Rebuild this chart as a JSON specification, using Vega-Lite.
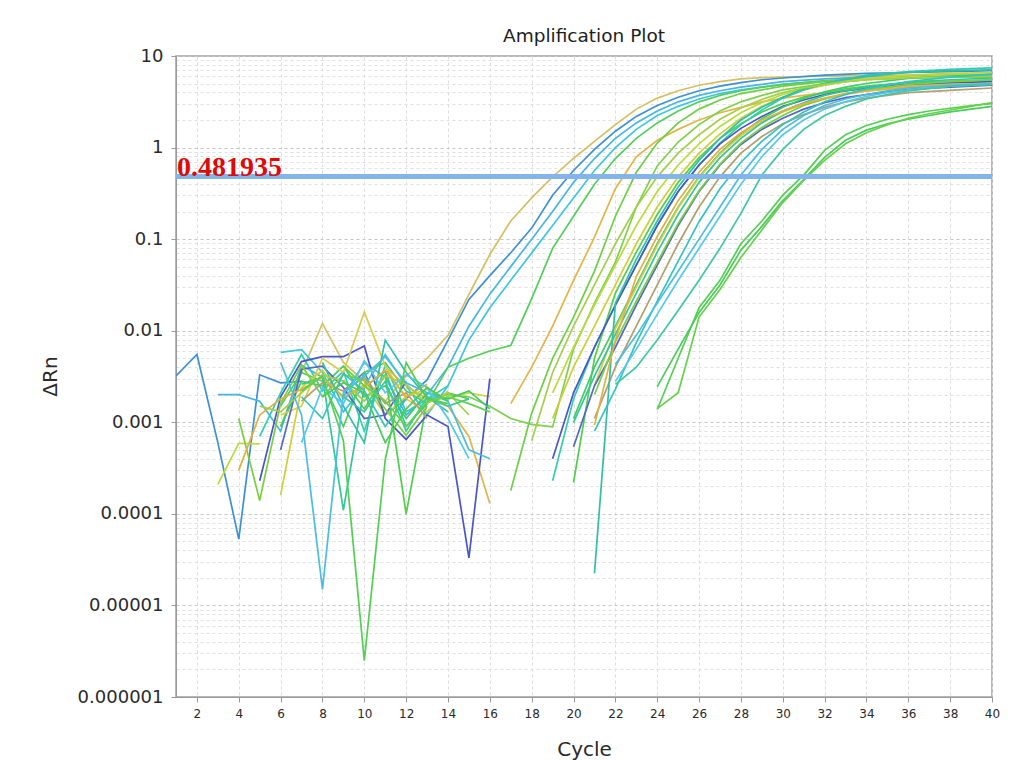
{
"$schema": "https://vega.github.io/schema/vega-lite/v6.json",
"width": 816, "height": 641,
"autosize": {"type": "none"},
"padding": {"left": 176, "top": 56, "right": 19, "bottom": 63},
"background": "white",
"title": {"text": "Amplification Plot", "fontSize": 18.5, "font": "DejaVu Sans", "fontWeight": "normal", "color": "#1e1e1e", "offset": 2},
"config": {
  "view": {"stroke": "#a0a0a0", "strokeWidth": 1.5},
  "axis": {"labelFont": "DejaVu Sans", "titleFont": "DejaVu Sans", "labelColor": "#2a2a2a", "titleColor": "#2a2a2a", "domainColor": "#9a9a9a", "tickColor": "#9a9a9a", "gridDash": [3, 3], "titleFontWeight": "normal"}
},
"data": {"values": [
{"w":"E1","s":1,"c":6,"v":0.0009},{"w":"E1","s":1,"c":7,"v":0.0035},{"w":"E1","s":1,"c":8,"v":0.012},{"w":"E1","s":1,"c":9,"v":0.0045},{"w":"E1","s":1,"c":10,"v":0.0028},{"w":"E1","s":1,"c":11,"v":0.0017},{"w":"E1","s":1,"c":12,"v":0.0032},{"w":"E1","s":1,"c":13,"v":0.005},{"w":"E1","s":1,"c":14,"v":0.0089},{"w":"E1","s":1,"c":15,"v":0.025},{"w":"E1","s":1,"c":16,"v":0.068},{"w":"E1","s":1,"c":17,"v":0.158},{"w":"E1","s":1,"c":18,"v":0.282},{"w":"E1","s":1,"c":19,"v":0.479},{"w":"E1","s":1,"c":20,"v":0.76},{"w":"E1","s":1,"c":21,"v":1.17},{"w":"E1","s":1,"c":22,"v":1.78},{"w":"E1","s":1,"c":23,"v":2.63},{"w":"E1","s":1,"c":24,"v":3.47},{"w":"E1","s":1,"c":25,"v":4.17},{"w":"E1","s":1,"c":26,"v":4.79},{"w":"E1","s":1,"c":27,"v":5.25},{"w":"E1","s":1,"c":28,"v":5.62},{"w":"E1","s":1,"c":29,"v":5.8},{"w":"E1","s":1,"c":30,"v":5.9},{"w":"E1","s":1,"c":32,"v":6.03},{"w":"E1","s":1,"c":34,"v":6.1},{"w":"E1","s":1,"c":36,"v":6.17},{"w":"E1","s":1,"c":38,"v":6.17},{"w":"E1","s":1,"c":40,"v":6.17},
{"w":"E2","s":1,"c":1,"v":0.0032},{"w":"E2","s":1,"c":2,"v":0.0055},{"w":"E2","s":1,"c":3,"v":0.0006},{"w":"E2","s":1,"c":4,"v":0.000053},{"w":"E2","s":1,"c":5,"v":0.0033},{"w":"E2","s":1,"c":6,"v":0.0027},{"w":"E2","s":1,"c":7,"v":0.0028},
{"w":"E2","s":2,"c":9,"v":0.0022},{"w":"E2","s":2,"c":10,"v":0.0035},{"w":"E2","s":2,"c":11,"v":0.0012},{"w":"E2","s":2,"c":12,"v":0.0018},{"w":"E2","s":2,"c":13,"v":0.0029},{"w":"E2","s":2,"c":14,"v":0.0079},{"w":"E2","s":2,"c":15,"v":0.022},{"w":"E2","s":2,"c":16,"v":0.04},{"w":"E2","s":2,"c":17,"v":0.071},{"w":"E2","s":2,"c":18,"v":0.132},{"w":"E2","s":2,"c":19,"v":0.302},{"w":"E2","s":2,"c":20,"v":0.562},{"w":"E2","s":2,"c":21,"v":0.955},{"w":"E2","s":2,"c":22,"v":1.51},{"w":"E2","s":2,"c":23,"v":2.19},{"w":"E2","s":2,"c":24,"v":2.88},{"w":"E2","s":2,"c":25,"v":3.55},{"w":"E2","s":2,"c":26,"v":4.17},{"w":"E2","s":2,"c":27,"v":4.68},{"w":"E2","s":2,"c":28,"v":5.13},{"w":"E2","s":2,"c":29,"v":5.5},{"w":"E2","s":2,"c":30,"v":5.75},{"w":"E2","s":2,"c":32,"v":6.17},{"w":"E2","s":2,"c":34,"v":6.46},{"w":"E2","s":2,"c":36,"v":6.6},{"w":"E2","s":2,"c":38,"v":6.76},{"w":"E2","s":2,"c":40,"v":6.9},
{"w":"E3","s":1,"c":3,"v":0.002},{"w":"E3","s":1,"c":4,"v":0.002},{"w":"E3","s":1,"c":5,"v":0.0017},{"w":"E3","s":1,"c":6,"v":0.0008},{"w":"E3","s":1,"c":7,"v":0.0042},{"w":"E3","s":1,"c":8,"v":0.0031},{"w":"E3","s":1,"c":9,"v":0.0019},{"w":"E3","s":1,"c":10,"v":0.0045},{"w":"E3","s":1,"c":11,"v":0.0031},{"w":"E3","s":1,"c":12,"v":0.0012},{"w":"E3","s":1,"c":13,"v":0.002},{"w":"E3","s":1,"c":14,"v":0.004},{"w":"E3","s":1,"c":15,"v":0.0112},{"w":"E3","s":1,"c":16,"v":0.0251},{"w":"E3","s":1,"c":17,"v":0.0501},{"w":"E3","s":1,"c":18,"v":0.1},{"w":"E3","s":1,"c":19,"v":0.2},{"w":"E3","s":1,"c":20,"v":0.417},{"w":"E3","s":1,"c":21,"v":0.759},{"w":"E3","s":1,"c":22,"v":1.26},{"w":"E3","s":1,"c":23,"v":1.86},{"w":"E3","s":1,"c":24,"v":2.51},{"w":"E3","s":1,"c":25,"v":3.16},{"w":"E3","s":1,"c":26,"v":3.72},{"w":"E3","s":1,"c":27,"v":4.17},{"w":"E3","s":1,"c":28,"v":4.57},{"w":"E3","s":1,"c":29,"v":4.9},{"w":"E3","s":1,"c":30,"v":5.25},{"w":"E3","s":1,"c":32,"v":5.62},{"w":"E3","s":1,"c":34,"v":5.89},{"w":"E3","s":1,"c":36,"v":6.03},{"w":"E3","s":1,"c":38,"v":6.17},{"w":"E3","s":1,"c":40,"v":6.31},
{"w":"E4","s":1,"c":6,"v":0.0058},{"w":"E4","s":1,"c":7,"v":0.0062},{"w":"E4","s":1,"c":8,"v":0.0035},{"w":"E4","s":1,"c":9,"v":0.0013},{"w":"E4","s":1,"c":10,"v":0.0025},{"w":"E4","s":1,"c":11,"v":0.0055},{"w":"E4","s":1,"c":12,"v":0.0025},{"w":"E4","s":1,"c":13,"v":0.0012},{"w":"E4","s":1,"c":14,"v":0.0025},{"w":"E4","s":1,"c":15,"v":0.0079},{"w":"E4","s":1,"c":16,"v":0.0178},{"w":"E4","s":1,"c":17,"v":0.0355},{"w":"E4","s":1,"c":18,"v":0.0708},{"w":"E4","s":1,"c":19,"v":0.141},{"w":"E4","s":1,"c":20,"v":0.282},{"w":"E4","s":1,"c":21,"v":0.562},{"w":"E4","s":1,"c":22,"v":1.0},{"w":"E4","s":1,"c":23,"v":1.58},{"w":"E4","s":1,"c":24,"v":2.24},{"w":"E4","s":1,"c":25,"v":2.82},{"w":"E4","s":1,"c":26,"v":3.39},{"w":"E4","s":1,"c":27,"v":3.89},{"w":"E4","s":1,"c":28,"v":4.27},{"w":"E4","s":1,"c":29,"v":4.57},{"w":"E4","s":1,"c":30,"v":4.9},{"w":"E4","s":1,"c":32,"v":5.37},{"w":"E4","s":1,"c":34,"v":5.75},{"w":"E4","s":1,"c":36,"v":5.89},{"w":"E4","s":1,"c":38,"v":6.03},{"w":"E4","s":1,"c":40,"v":6.03},
{"w":"E5","s":1,"c":6,"v":0.0015},{"w":"E5","s":1,"c":7,"v":0.0035},{"w":"E5","s":1,"c":8,"v":0.0028},{"w":"E5","s":1,"c":9,"v":0.0009},{"w":"E5","s":1,"c":10,"v":0.0035},{"w":"E5","s":1,"c":11,"v":0.0045},{"w":"E5","s":1,"c":12,"v":0.0022},{"w":"E5","s":1,"c":13,"v":0.0016},{"w":"E5","s":1,"c":14,"v":0.004},{"w":"E5","s":1,"c":15,"v":0.005},{"w":"E5","s":1,"c":16,"v":0.006},{"w":"E5","s":1,"c":17,"v":0.0069},{"w":"E5","s":1,"c":18,"v":0.0224},{"w":"E5","s":1,"c":19,"v":0.0794},{"w":"E5","s":1,"c":20,"v":0.178},{"w":"E5","s":1,"c":21,"v":0.398},{"w":"E5","s":1,"c":22,"v":0.759},{"w":"E5","s":1,"c":23,"v":1.26},{"w":"E5","s":1,"c":24,"v":1.86},{"w":"E5","s":1,"c":25,"v":2.51},{"w":"E5","s":1,"c":26,"v":3.16},{"w":"E5","s":1,"c":27,"v":3.72},{"w":"E5","s":1,"c":28,"v":4.17},{"w":"E5","s":1,"c":29,"v":4.57},{"w":"E5","s":1,"c":30,"v":4.9},{"w":"E5","s":1,"c":32,"v":5.37},{"w":"E5","s":1,"c":34,"v":5.62},{"w":"E5","s":1,"c":36,"v":5.75},{"w":"E5","s":1,"c":38,"v":5.89},{"w":"E5","s":1,"c":40,"v":5.89},
{"w":"E6","s":1,"c":11,"v":0.004},{"w":"E6","s":1,"c":12,"v":0.0025},{"w":"E6","s":1,"c":13,"v":0.0018},{"w":"E6","s":1,"c":14,"v":0.0015},{"w":"E6","s":1,"c":15,"v":0.0007},{"w":"E6","s":1,"c":16,"v":0.00013},
{"w":"E6","s":2,"c":17,"v":0.0016},{"w":"E6","s":2,"c":18,"v":0.004},{"w":"E6","s":2,"c":19,"v":0.0112},{"w":"E6","s":2,"c":20,"v":0.0355},{"w":"E6","s":2,"c":21,"v":0.105},{"w":"E6","s":2,"c":22,"v":0.355},{"w":"E6","s":2,"c":23,"v":0.794},{"w":"E6","s":2,"c":24,"v":1.2},{"w":"E6","s":2,"c":25,"v":1.58},{"w":"E6","s":2,"c":26,"v":2.0},{"w":"E6","s":2,"c":27,"v":2.4},{"w":"E6","s":2,"c":28,"v":2.75},{"w":"E6","s":2,"c":29,"v":3.16},{"w":"E6","s":2,"c":30,"v":3.47},{"w":"E6","s":2,"c":32,"v":3.98},{"w":"E6","s":2,"c":34,"v":4.37},{"w":"E6","s":2,"c":36,"v":4.68},{"w":"E6","s":2,"c":38,"v":4.9},{"w":"E6","s":2,"c":40,"v":5.01},
{"w":"E7","s":1,"c":17,"v":0.00018},{"w":"E7","s":1,"c":18,"v":0.00126},{"w":"E7","s":1,"c":19,"v":0.005},{"w":"E7","s":1,"c":20,"v":0.0141},{"w":"E7","s":1,"c":21,"v":0.0447},{"w":"E7","s":1,"c":22,"v":0.178},{"w":"E7","s":1,"c":23,"v":0.537},{"w":"E7","s":1,"c":24,"v":1.12},{"w":"E7","s":1,"c":25,"v":1.86},{"w":"E7","s":1,"c":26,"v":2.63},{"w":"E7","s":1,"c":27,"v":3.31},{"w":"E7","s":1,"c":28,"v":3.89},{"w":"E7","s":1,"c":29,"v":4.27},{"w":"E7","s":1,"c":30,"v":4.68},{"w":"E7","s":1,"c":32,"v":5.25},{"w":"E7","s":1,"c":34,"v":5.62},{"w":"E7","s":1,"c":36,"v":5.89},{"w":"E7","s":1,"c":38,"v":6.03},{"w":"E7","s":1,"c":40,"v":6.03},
{"w":"E8","s":1,"c":13,"v":0.0018},{"w":"E8","s":1,"c":14,"v":0.002},{"w":"E8","s":1,"c":15,"v":0.0019},{"w":"E8","s":1,"c":16,"v":0.0015},{"w":"E8","s":1,"c":17,"v":0.0011},{"w":"E8","s":1,"c":18,"v":0.00095},{"w":"E8","s":1,"c":19,"v":0.00089},{"w":"E8","s":1,"c":20,"v":0.0063},{"w":"E8","s":1,"c":21,"v":0.02},{"w":"E8","s":1,"c":22,"v":0.0562},{"w":"E8","s":1,"c":23,"v":0.224},{"w":"E8","s":1,"c":24,"v":0.631},{"w":"E8","s":1,"c":25,"v":1.15},{"w":"E8","s":1,"c":26,"v":1.78},{"w":"E8","s":1,"c":27,"v":2.51},{"w":"E8","s":1,"c":28,"v":3.16},{"w":"E8","s":1,"c":29,"v":3.72},{"w":"E8","s":1,"c":30,"v":4.27},{"w":"E8","s":1,"c":32,"v":5.01},{"w":"E8","s":1,"c":34,"v":5.5},{"w":"E8","s":1,"c":36,"v":5.75},{"w":"E8","s":1,"c":38,"v":5.89},{"w":"E8","s":1,"c":40,"v":5.89},
{"w":"M1","s":1,"c":3,"v":0.00021},{"w":"M1","s":1,"c":4,"v":0.00059},{"w":"M1","s":1,"c":5,"v":0.00058},
{"w":"M1","s":2,"c":19,"v":0.0021},{"w":"M1","s":2,"c":20,"v":0.0066},{"w":"M1","s":2,"c":21,"v":0.019},{"w":"M1","s":2,"c":22,"v":0.052},{"w":"M1","s":2,"c":23,"v":0.141},{"w":"M1","s":2,"c":24,"v":0.331},{"w":"M1","s":2,"c":25,"v":0.646},{"w":"M1","s":2,"c":26,"v":1.1},{"w":"M1","s":2,"c":27,"v":1.7},{"w":"M1","s":2,"c":28,"v":2.4},{"w":"M1","s":2,"c":29,"v":3.1},{"w":"M1","s":2,"c":30,"v":3.8},{"w":"M1","s":2,"c":31,"v":4.37},{"w":"M1","s":2,"c":32,"v":4.8},{"w":"M1","s":2,"c":33,"v":5.25},{"w":"M1","s":2,"c":34,"v":5.56},{"w":"M1","s":2,"c":36,"v":5.9},{"w":"M1","s":2,"c":38,"v":6.17},{"w":"M1","s":2,"c":40,"v":6.3},
{"w":"M2","s":1,"c":6,"v":0.00016},{"w":"M2","s":1,"c":7,"v":0.0024},{"w":"M2","s":1,"c":8,"v":0.0037},{"w":"M2","s":1,"c":9,"v":0.0018},{"w":"M2","s":1,"c":10,"v":0.0026},{"w":"M2","s":1,"c":11,"v":0.0012},{"w":"M2","s":1,"c":12,"v":0.0019},{"w":"M2","s":1,"c":13,"v":0.0023},{"w":"M2","s":1,"c":14,"v":0.0018},{"w":"M2","s":1,"c":15,"v":0.0021},{"w":"M2","s":1,"c":16,"v":0.0019},
{"w":"M2","s":2,"c":19,"v":0.0011},{"w":"M2","s":2,"c":20,"v":0.004},{"w":"M2","s":2,"c":21,"v":0.0112},{"w":"M2","s":2,"c":22,"v":0.0316},{"w":"M2","s":2,"c":23,"v":0.089},{"w":"M2","s":2,"c":24,"v":0.224},{"w":"M2","s":2,"c":25,"v":0.479},{"w":"M2","s":2,"c":26,"v":0.87},{"w":"M2","s":2,"c":27,"v":1.41},{"w":"M2","s":2,"c":28,"v":2.09},{"w":"M2","s":2,"c":29,"v":2.82},{"w":"M2","s":2,"c":30,"v":3.55},{"w":"M2","s":2,"c":31,"v":4.27},{"w":"M2","s":2,"c":32,"v":4.79},{"w":"M2","s":2,"c":33,"v":5.25},{"w":"M2","s":2,"c":34,"v":5.69},{"w":"M2","s":2,"c":36,"v":6.17},{"w":"M2","s":2,"c":38,"v":6.46},{"w":"M2","s":2,"c":40,"v":6.6},
{"w":"M3","s":1,"c":9,"v":0.0029},{"w":"M3","s":1,"c":10,"v":0.0014},{"w":"M3","s":1,"c":11,"v":0.0033},{"w":"M3","s":1,"c":12,"v":0.0001},{"w":"M3","s":1,"c":13,"v":0.0017},{"w":"M3","s":1,"c":14,"v":0.0021},{"w":"M3","s":1,"c":15,"v":0.0018},
{"w":"M3","s":2,"c":20,"v":0.00022},{"w":"M3","s":2,"c":21,"v":0.005},{"w":"M3","s":2,"c":22,"v":0.0257},{"w":"M3","s":2,"c":23,"v":0.072},{"w":"M3","s":2,"c":24,"v":0.186},{"w":"M3","s":2,"c":25,"v":0.417},{"w":"M3","s":2,"c":26,"v":0.776},{"w":"M3","s":2,"c":27,"v":1.26},{"w":"M3","s":2,"c":28,"v":1.82},{"w":"M3","s":2,"c":29,"v":2.45},{"w":"M3","s":2,"c":30,"v":3.02},{"w":"M3","s":2,"c":31,"v":3.55},{"w":"M3","s":2,"c":32,"v":3.98},{"w":"M3","s":2,"c":33,"v":4.37},{"w":"M3","s":2,"c":34,"v":4.68},{"w":"M3","s":2,"c":36,"v":5.13},{"w":"M3","s":2,"c":38,"v":5.31},{"w":"M3","s":2,"c":40,"v":5.5},
{"w":"M4","s":1,"c":5,"v":0.0007},{"w":"M4","s":1,"c":6,"v":0.0021},{"w":"M4","s":1,"c":7,"v":0.0055},{"w":"M4","s":1,"c":8,"v":0.0022},{"w":"M4","s":1,"c":9,"v":0.0036},{"w":"M4","s":1,"c":10,"v":0.0008},{"w":"M4","s":1,"c":11,"v":0.0042},{"w":"M4","s":1,"c":12,"v":0.0013},{"w":"M4","s":1,"c":13,"v":0.0018},{"w":"M4","s":1,"c":14,"v":0.0025},
{"w":"M4","s":2,"c":19,"v":0.00023},{"w":"M4","s":2,"c":20,"v":0.0018},{"w":"M4","s":2,"c":21,"v":0.0066},{"w":"M4","s":2,"c":22,"v":0.019},{"w":"M4","s":2,"c":23,"v":0.052},{"w":"M4","s":2,"c":24,"v":0.141},{"w":"M4","s":2,"c":25,"v":0.331},{"w":"M4","s":2,"c":26,"v":0.646},{"w":"M4","s":2,"c":27,"v":1.12},{"w":"M4","s":2,"c":28,"v":1.78},{"w":"M4","s":2,"c":29,"v":2.57},{"w":"M4","s":2,"c":30,"v":3.47},{"w":"M4","s":2,"c":31,"v":4.27},{"w":"M4","s":2,"c":32,"v":5.01},{"w":"M4","s":2,"c":33,"v":5.56},{"w":"M4","s":2,"c":34,"v":6.17},{"w":"M4","s":2,"c":36,"v":6.76},{"w":"M4","s":2,"c":38,"v":7.16},{"w":"M4","s":2,"c":40,"v":7.41},
{"w":"M5","s":1,"c":5,"v":0.00023},{"w":"M5","s":1,"c":6,"v":0.0019},{"w":"M5","s":1,"c":7,"v":0.0046},{"w":"M5","s":1,"c":8,"v":0.0052},{"w":"M5","s":1,"c":9,"v":0.0052},{"w":"M5","s":1,"c":10,"v":0.0068},{"w":"M5","s":1,"c":11,"v":0.0011},{"w":"M5","s":1,"c":12,"v":0.00065},{"w":"M5","s":1,"c":13,"v":0.0012},{"w":"M5","s":1,"c":14,"v":0.0009},{"w":"M5","s":1,"c":15,"v":0.000033},{"w":"M5","s":1,"c":16,"v":0.003},
{"w":"M5","s":2,"c":19,"v":0.0004},{"w":"M5","s":2,"c":20,"v":0.0021},{"w":"M5","s":2,"c":21,"v":0.0066},{"w":"M5","s":2,"c":22,"v":0.019},{"w":"M5","s":2,"c":23,"v":0.052},{"w":"M5","s":2,"c":24,"v":0.141},{"w":"M5","s":2,"c":25,"v":0.331},{"w":"M5","s":2,"c":26,"v":0.646},{"w":"M5","s":2,"c":27,"v":1.1},{"w":"M5","s":2,"c":28,"v":1.62},{"w":"M5","s":2,"c":29,"v":2.19},{"w":"M5","s":2,"c":30,"v":2.82},{"w":"M5","s":2,"c":31,"v":3.31},{"w":"M5","s":2,"c":32,"v":3.8},{"w":"M5","s":2,"c":33,"v":4.17},{"w":"M5","s":2,"c":34,"v":4.52},{"w":"M5","s":2,"c":36,"v":4.9},{"w":"M5","s":2,"c":38,"v":5.13},{"w":"M5","s":2,"c":40,"v":5.25},
{"w":"M6","s":1,"c":6,"v":0.0009},{"w":"M6","s":1,"c":7,"v":0.0028},{"w":"M6","s":1,"c":8,"v":0.0025},{"w":"M6","s":1,"c":9,"v":0.0041},{"w":"M6","s":1,"c":10,"v":0.0019},{"w":"M6","s":1,"c":11,"v":0.0025},{"w":"M6","s":1,"c":12,"v":0.0011},{"w":"M6","s":1,"c":13,"v":0.0021},{"w":"M6","s":1,"c":14,"v":0.0018},{"w":"M6","s":1,"c":15,"v":0.0022},{"w":"M6","s":1,"c":16,"v":0.0014},
{"w":"M6","s":2,"c":20,"v":0.0011},{"w":"M6","s":2,"c":21,"v":0.004},{"w":"M6","s":2,"c":22,"v":0.0112},{"w":"M6","s":2,"c":23,"v":0.0316},{"w":"M6","s":2,"c":24,"v":0.089},{"w":"M6","s":2,"c":25,"v":0.224},{"w":"M6","s":2,"c":26,"v":0.479},{"w":"M6","s":2,"c":27,"v":0.87},{"w":"M6","s":2,"c":28,"v":1.41},{"w":"M6","s":2,"c":29,"v":2.07},{"w":"M6","s":2,"c":30,"v":2.75},{"w":"M6","s":2,"c":31,"v":3.43},{"w":"M6","s":2,"c":32,"v":4.07},{"w":"M6","s":2,"c":33,"v":4.57},{"w":"M6","s":2,"c":34,"v":5.01},{"w":"M6","s":2,"c":36,"v":5.69},{"w":"M6","s":2,"c":38,"v":6.03},{"w":"M6","s":2,"c":40,"v":6.31},
{"w":"M7","s":1,"c":6,"v":0.0012},{"w":"M7","s":1,"c":7,"v":0.0015},{"w":"M7","s":1,"c":8,"v":0.005},{"w":"M7","s":1,"c":9,"v":0.0035},{"w":"M7","s":1,"c":10,"v":0.016},{"w":"M7","s":1,"c":11,"v":0.0041},{"w":"M7","s":1,"c":12,"v":0.0018},{"w":"M7","s":1,"c":13,"v":0.0013},{"w":"M7","s":1,"c":14,"v":0.0022},
{"w":"M7","s":2,"c":21,"v":0.0025},{"w":"M7","s":2,"c":22,"v":0.0105},{"w":"M7","s":2,"c":23,"v":0.03},{"w":"M7","s":2,"c":24,"v":0.085},{"w":"M7","s":2,"c":25,"v":0.219},{"w":"M7","s":2,"c":26,"v":0.468},{"w":"M7","s":2,"c":27,"v":0.85},{"w":"M7","s":2,"c":28,"v":1.35},{"w":"M7","s":2,"c":29,"v":1.91},{"w":"M7","s":2,"c":30,"v":2.45},{"w":"M7","s":2,"c":31,"v":2.95},{"w":"M7","s":2,"c":32,"v":3.43},{"w":"M7","s":2,"c":33,"v":3.8},{"w":"M7","s":2,"c":34,"v":4.12},{"w":"M7","s":2,"c":36,"v":4.57},{"w":"M7","s":2,"c":38,"v":4.84},{"w":"M7","s":2,"c":40,"v":5.01},
{"w":"M8","s":1,"c":7,"v":0.0026},{"w":"M8","s":1,"c":8,"v":0.0031},{"w":"M8","s":1,"c":9,"v":0.00011},{"w":"M8","s":1,"c":10,"v":0.0024},{"w":"M8","s":1,"c":11,"v":0.0036},{"w":"M8","s":1,"c":12,"v":0.0009},{"w":"M8","s":1,"c":13,"v":0.0016},
{"w":"M8","s":2,"c":20,"v":0.001},{"w":"M8","s":2,"c":21,"v":0.0032},{"w":"M8","s":2,"c":22,"v":0.0091},{"w":"M8","s":2,"c":23,"v":0.0257},{"w":"M8","s":2,"c":24,"v":0.072},{"w":"M8","s":2,"c":25,"v":0.186},{"w":"M8","s":2,"c":26,"v":0.417},{"w":"M8","s":2,"c":27,"v":0.776},{"w":"M8","s":2,"c":28,"v":1.26},{"w":"M8","s":2,"c":29,"v":1.86},{"w":"M8","s":2,"c":30,"v":2.51},{"w":"M8","s":2,"c":31,"v":3.09},{"w":"M8","s":2,"c":32,"v":3.72},{"w":"M8","s":2,"c":33,"v":4.17},{"w":"M8","s":2,"c":34,"v":4.57},{"w":"M8","s":2,"c":36,"v":5.19},{"w":"M8","s":2,"c":38,"v":5.5},{"w":"M8","s":2,"c":40,"v":5.75},
{"w":"M9","s":1,"c":6,"v":0.0005},{"w":"M9","s":1,"c":7,"v":0.0038},{"w":"M9","s":1,"c":8,"v":0.0041},{"w":"M9","s":1,"c":9,"v":0.0024},{"w":"M9","s":1,"c":10,"v":0.0011},{"w":"M9","s":1,"c":11,"v":0.0012},{"w":"M9","s":1,"c":12,"v":0.0028},
{"w":"M9","s":2,"c":20,"v":0.00054},{"w":"M9","s":2,"c":21,"v":0.0025},{"w":"M9","s":2,"c":22,"v":0.0066},{"w":"M9","s":2,"c":23,"v":0.019},{"w":"M9","s":2,"c":24,"v":0.052},{"w":"M9","s":2,"c":25,"v":0.141},{"w":"M9","s":2,"c":26,"v":0.331},{"w":"M9","s":2,"c":27,"v":0.646},{"w":"M9","s":2,"c":28,"v":1.08},{"w":"M9","s":2,"c":29,"v":1.58},{"w":"M9","s":2,"c":30,"v":2.09},{"w":"M9","s":2,"c":31,"v":2.63},{"w":"M9","s":2,"c":32,"v":3.09},{"w":"M9","s":2,"c":33,"v":3.51},{"w":"M9","s":2,"c":34,"v":3.8},{"w":"M9","s":2,"c":36,"v":4.32},{"w":"M9","s":2,"c":38,"v":4.57},{"w":"M9","s":2,"c":40,"v":4.79},
{"w":"M10","s":1,"c":4,"v":0.0011},{"w":"M10","s":1,"c":5,"v":0.00014},{"w":"M10","s":1,"c":6,"v":0.0016},{"w":"M10","s":1,"c":7,"v":0.0042},{"w":"M10","s":1,"c":8,"v":0.0019},{"w":"M10","s":1,"c":9,"v":0.0033},{"w":"M10","s":1,"c":10,"v":0.0029},{"w":"M10","s":1,"c":11,"v":0.0014},{"w":"M10","s":1,"c":12,"v":0.00072},{"w":"M10","s":1,"c":13,"v":0.0015},
{"w":"M10","s":2,"c":21,"v":0.002},{"w":"M10","s":2,"c":22,"v":0.0076},{"w":"M10","s":2,"c":23,"v":0.021},{"w":"M10","s":2,"c":24,"v":0.056},{"w":"M10","s":2,"c":25,"v":0.148},{"w":"M10","s":2,"c":26,"v":0.339},{"w":"M10","s":2,"c":27,"v":0.661},{"w":"M10","s":2,"c":28,"v":1.12},{"w":"M10","s":2,"c":29,"v":1.66},{"w":"M10","s":2,"c":30,"v":2.24},{"w":"M10","s":2,"c":31,"v":2.88},{"w":"M10","s":2,"c":32,"v":3.39},{"w":"M10","s":2,"c":33,"v":3.89},{"w":"M10","s":2,"c":34,"v":4.27},{"w":"M10","s":2,"c":36,"v":4.9},{"w":"M10","s":2,"c":38,"v":5.25},{"w":"M10","s":2,"c":40,"v":5.5},
{"w":"M11","s":1,"c":7,"v":0.0017},{"w":"M11","s":1,"c":8,"v":0.0027},{"w":"M11","s":1,"c":9,"v":0.0022},{"w":"M11","s":1,"c":10,"v":0.0031},{"w":"M11","s":1,"c":11,"v":0.0016},{"w":"M11","s":1,"c":12,"v":0.0021},{"w":"M11","s":1,"c":13,"v":0.0011},
{"w":"M11","s":2,"c":21,"v":0.0011},{"w":"M11","s":2,"c":22,"v":0.004},{"w":"M11","s":2,"c":23,"v":0.0112},{"w":"M11","s":2,"c":24,"v":0.0316},{"w":"M11","s":2,"c":25,"v":0.089},{"w":"M11","s":2,"c":26,"v":0.224},{"w":"M11","s":2,"c":27,"v":0.479},{"w":"M11","s":2,"c":28,"v":0.87},{"w":"M11","s":2,"c":29,"v":1.32},{"w":"M11","s":2,"c":30,"v":1.82},{"w":"M11","s":2,"c":31,"v":2.29},{"w":"M11","s":2,"c":32,"v":2.75},{"w":"M11","s":2,"c":33,"v":3.16},{"w":"M11","s":2,"c":34,"v":3.47},{"w":"M11","s":2,"c":36,"v":3.98},{"w":"M11","s":2,"c":38,"v":4.22},{"w":"M11","s":2,"c":40,"v":4.47},
{"w":"M12","s":1,"c":8,"v":0.0045},{"w":"M12","s":1,"c":9,"v":0.0015},{"w":"M12","s":1,"c":10,"v":0.0006},{"w":"M12","s":1,"c":11,"v":0.0079},{"w":"M12","s":1,"c":12,"v":0.0035},{"w":"M12","s":1,"c":13,"v":0.0019},{"w":"M12","s":1,"c":14,"v":0.0013},
{"w":"M12","s":2,"c":21,"v":0.0000224},{"w":"M12","s":2,"c":22,"v":0.02},{"w":"M12","s":2,"c":23,"v":0.06},{"w":"M12","s":2,"c":24,"v":0.158},{"w":"M12","s":2,"c":25,"v":0.372},{"w":"M12","s":2,"c":26,"v":0.724},{"w":"M12","s":2,"c":27,"v":1.26},{"w":"M12","s":2,"c":28,"v":2.0},{"w":"M12","s":2,"c":29,"v":2.75},{"w":"M12","s":2,"c":30,"v":3.55},{"w":"M12","s":2,"c":31,"v":4.37},{"w":"M12","s":2,"c":32,"v":5.01},{"w":"M12","s":2,"c":33,"v":5.56},{"w":"M12","s":2,"c":34,"v":6.03},{"w":"M12","s":2,"c":36,"v":6.61},{"w":"M12","s":2,"c":38,"v":6.92},{"w":"M12","s":2,"c":40,"v":7.08},
{"w":"M13","s":1,"c":4,"v":0.0003},{"w":"M13","s":1,"c":5,"v":0.0012},{"w":"M13","s":1,"c":6,"v":0.0018},{"w":"M13","s":1,"c":7,"v":0.0023},{"w":"M13","s":1,"c":8,"v":0.0031},{"w":"M13","s":1,"c":9,"v":0.0019},{"w":"M13","s":1,"c":10,"v":0.0024},{"w":"M13","s":1,"c":11,"v":0.0037},{"w":"M13","s":1,"c":12,"v":0.0019},{"w":"M13","s":1,"c":13,"v":0.0026},
{"w":"M13","s":2,"c":21,"v":0.00093},{"w":"M13","s":2,"c":22,"v":0.0079},{"w":"M13","s":2,"c":23,"v":0.039},{"w":"M13","s":2,"c":24,"v":0.107},{"w":"M13","s":2,"c":25,"v":0.263},{"w":"M13","s":2,"c":26,"v":0.537},{"w":"M13","s":2,"c":27,"v":0.955},{"w":"M13","s":2,"c":28,"v":1.45},{"w":"M13","s":2,"c":29,"v":2.0},{"w":"M13","s":2,"c":30,"v":2.51},{"w":"M13","s":2,"c":31,"v":3.02},{"w":"M13","s":2,"c":32,"v":3.47},{"w":"M13","s":2,"c":33,"v":3.89},{"w":"M13","s":2,"c":34,"v":4.17},{"w":"M13","s":2,"c":36,"v":4.57},{"w":"M13","s":2,"c":38,"v":4.84},{"w":"M13","s":2,"c":40,"v":5.01},
{"w":"M14","s":1,"c":5,"v":0.0015},{"w":"M14","s":1,"c":6,"v":0.0013},{"w":"M14","s":1,"c":7,"v":0.0021},{"w":"M14","s":1,"c":8,"v":0.0033},{"w":"M14","s":1,"c":9,"v":0.0028},{"w":"M14","s":1,"c":10,"v":0.0017},{"w":"M14","s":1,"c":11,"v":0.0032},{"w":"M14","s":1,"c":12,"v":0.0026},{"w":"M14","s":1,"c":13,"v":0.0016},{"w":"M14","s":1,"c":14,"v":0.0021},{"w":"M14","s":1,"c":15,"v":0.0012},
{"w":"M14","s":2,"c":18,"v":0.00063},{"w":"M14","s":2,"c":19,"v":0.0035},{"w":"M14","s":2,"c":20,"v":0.0112},{"w":"M14","s":2,"c":21,"v":0.0316},{"w":"M14","s":2,"c":22,"v":0.089},{"w":"M14","s":2,"c":23,"v":0.224},{"w":"M14","s":2,"c":24,"v":0.479},{"w":"M14","s":2,"c":25,"v":0.87},{"w":"M14","s":2,"c":26,"v":1.38},{"w":"M14","s":2,"c":27,"v":2.04},{"w":"M14","s":2,"c":28,"v":2.7},{"w":"M14","s":2,"c":29,"v":3.35},{"w":"M14","s":2,"c":30,"v":3.98},{"w":"M14","s":2,"c":31,"v":4.47},{"w":"M14","s":2,"c":32,"v":4.9},{"w":"M14","s":2,"c":33,"v":5.25},{"w":"M14","s":2,"c":34,"v":5.5},{"w":"M14","s":2,"c":36,"v":5.75},{"w":"M14","s":2,"c":38,"v":5.9},{"w":"M14","s":2,"c":40,"v":6.03},
{"w":"M15","s":1,"c":7,"v":0.0019},{"w":"M15","s":1,"c":8,"v":0.0011},{"w":"M15","s":1,"c":9,"v":0.0034},{"w":"M15","s":1,"c":10,"v":0.0022},{"w":"M15","s":1,"c":11,"v":0.0009},{"w":"M15","s":1,"c":12,"v":0.0018},
{"w":"M15","s":2,"c":21,"v":0.0008},{"w":"M15","s":2,"c":22,"v":0.0023},{"w":"M15","s":2,"c":23,"v":0.0074},{"w":"M15","s":2,"c":24,"v":0.021},{"w":"M15","s":2,"c":25,"v":0.0575},{"w":"M15","s":2,"c":26,"v":0.155},{"w":"M15","s":2,"c":27,"v":0.355},{"w":"M15","s":2,"c":28,"v":0.692},{"w":"M15","s":2,"c":29,"v":1.17},{"w":"M15","s":2,"c":30,"v":1.78},{"w":"M15","s":2,"c":31,"v":2.45},{"w":"M15","s":2,"c":32,"v":3.16},{"w":"M15","s":2,"c":33,"v":3.8},{"w":"M15","s":2,"c":34,"v":4.37},{"w":"M15","s":2,"c":36,"v":5.25},{"w":"M15","s":2,"c":38,"v":5.89},{"w":"M15","s":2,"c":40,"v":6.31},
{"w":"L1","s":1,"c":6,"v":0.0045},{"w":"L1","s":1,"c":7,"v":0.0012},{"w":"L1","s":1,"c":8,"v":0.000015},{"w":"L1","s":1,"c":9,"v":0.0021},{"w":"L1","s":1,"c":10,"v":0.0032},{"w":"L1","s":1,"c":11,"v":0.0052},{"w":"L1","s":1,"c":12,"v":0.0027},{"w":"L1","s":1,"c":13,"v":0.0021},{"w":"L1","s":1,"c":14,"v":0.0017},{"w":"L1","s":1,"c":15,"v":0.0005},{"w":"L1","s":1,"c":16,"v":0.0004},
{"w":"L1","s":2,"c":22,"v":0.0043},{"w":"L1","s":2,"c":23,"v":0.0089},{"w":"L1","s":2,"c":24,"v":0.02},{"w":"L1","s":2,"c":25,"v":0.0447},{"w":"L1","s":2,"c":26,"v":0.1},{"w":"L1","s":2,"c":27,"v":0.224},{"w":"L1","s":2,"c":28,"v":0.501},{"w":"L1","s":2,"c":29,"v":0.955},{"w":"L1","s":2,"c":30,"v":1.58},{"w":"L1","s":2,"c":31,"v":2.24},{"w":"L1","s":2,"c":32,"v":2.88},{"w":"L1","s":2,"c":33,"v":3.39},{"w":"L1","s":2,"c":34,"v":3.8},{"w":"L1","s":2,"c":35,"v":4.17},{"w":"L1","s":2,"c":36,"v":4.47},{"w":"L1","s":2,"c":38,"v":4.79},{"w":"L1","s":2,"c":40,"v":5.01},
{"w":"L2","s":1,"c":7,"v":0.0006},{"w":"L2","s":1,"c":8,"v":0.0024},{"w":"L2","s":1,"c":9,"v":0.0016},{"w":"L2","s":1,"c":10,"v":0.0047},{"w":"L2","s":1,"c":11,"v":0.0021},{"w":"L2","s":1,"c":12,"v":0.0033},{"w":"L2","s":1,"c":13,"v":0.0024},{"w":"L2","s":1,"c":14,"v":0.0011},{"w":"L2","s":1,"c":15,"v":0.0004},
{"w":"L2","s":2,"c":22,"v":0.0028},{"w":"L2","s":2,"c":23,"v":0.0063},{"w":"L2","s":2,"c":24,"v":0.0151},{"w":"L2","s":2,"c":25,"v":0.0355},{"w":"L2","s":2,"c":26,"v":0.0794},{"w":"L2","s":2,"c":27,"v":0.178},{"w":"L2","s":2,"c":28,"v":0.398},{"w":"L2","s":2,"c":29,"v":0.794},{"w":"L2","s":2,"c":30,"v":1.38},{"w":"L2","s":2,"c":31,"v":2.0},{"w":"L2","s":2,"c":32,"v":2.63},{"w":"L2","s":2,"c":33,"v":3.16},{"w":"L2","s":2,"c":34,"v":3.63},{"w":"L2","s":2,"c":35,"v":3.98},{"w":"L2","s":2,"c":36,"v":4.27},{"w":"L2","s":2,"c":38,"v":4.68},{"w":"L2","s":2,"c":40,"v":4.9},
{"w":"L3","s":1,"c":9,"v":0.0019},{"w":"L3","s":1,"c":10,"v":0.0013},{"w":"L3","s":1,"c":11,"v":0.0028},{"w":"L3","s":1,"c":12,"v":0.0008},{"w":"L3","s":1,"c":13,"v":0.0019},{"w":"L3","s":1,"c":14,"v":0.0015},{"w":"L3","s":1,"c":15,"v":0.0018},
{"w":"L3","s":2,"c":22,"v":0.0026},{"w":"L3","s":2,"c":23,"v":0.004},{"w":"L3","s":2,"c":24,"v":0.0079},{"w":"L3","s":2,"c":25,"v":0.0166},{"w":"L3","s":2,"c":26,"v":0.0355},{"w":"L3","s":2,"c":27,"v":0.0794},{"w":"L3","s":2,"c":28,"v":0.191},{"w":"L3","s":2,"c":29,"v":0.501},{"w":"L3","s":2,"c":30,"v":0.955},{"w":"L3","s":2,"c":31,"v":1.58},{"w":"L3","s":2,"c":32,"v":2.24},{"w":"L3","s":2,"c":33,"v":2.82},{"w":"L3","s":2,"c":34,"v":3.39},{"w":"L3","s":2,"c":35,"v":3.8},{"w":"L3","s":2,"c":36,"v":4.17},{"w":"L3","s":2,"c":38,"v":4.68},{"w":"L3","s":2,"c":40,"v":4.9},
{"w":"G1","s":1,"c":7,"v":0.0022},{"w":"G1","s":1,"c":8,"v":0.0032},{"w":"G1","s":1,"c":9,"v":0.00063},{"w":"G1","s":1,"c":10,"v":0.0000025},{"w":"G1","s":1,"c":11,"v":0.00039},{"w":"G1","s":1,"c":12,"v":0.0045},{"w":"G1","s":1,"c":13,"v":0.0018},{"w":"G1","s":1,"c":14,"v":0.0016},
{"w":"G1","s":2,"c":24,"v":0.00138},{"w":"G1","s":2,"c":25,"v":0.005},{"w":"G1","s":2,"c":26,"v":0.0178},{"w":"G1","s":2,"c":27,"v":0.0355},{"w":"G1","s":2,"c":28,"v":0.0891},{"w":"G1","s":2,"c":29,"v":0.158},{"w":"G1","s":2,"c":30,"v":0.302},{"w":"G1","s":2,"c":31,"v":0.501},{"w":"G1","s":2,"c":32,"v":0.933},{"w":"G1","s":2,"c":33,"v":1.38},{"w":"G1","s":2,"c":34,"v":1.74},{"w":"G1","s":2,"c":35,"v":2.04},{"w":"G1","s":2,"c":36,"v":2.29},{"w":"G1","s":2,"c":37,"v":2.51},{"w":"G1","s":2,"c":38,"v":2.69},{"w":"G1","s":2,"c":39,"v":2.88},{"w":"G1","s":2,"c":40,"v":3.02},
{"w":"G2","s":1,"c":8,"v":0.0019},{"w":"G2","s":1,"c":9,"v":0.0027},{"w":"G2","s":1,"c":10,"v":0.0021},{"w":"G2","s":1,"c":11,"v":0.0006},{"w":"G2","s":1,"c":12,"v":0.0014},{"w":"G2","s":1,"c":13,"v":0.0024},{"w":"G2","s":1,"c":14,"v":0.0017},
{"w":"G2","s":2,"c":24,"v":0.00245},{"w":"G2","s":2,"c":25,"v":0.0063},{"w":"G2","s":2,"c":26,"v":0.0158},{"w":"G2","s":2,"c":27,"v":0.0316},{"w":"G2","s":2,"c":28,"v":0.0759},{"w":"G2","s":2,"c":29,"v":0.138},{"w":"G2","s":2,"c":30,"v":0.263},{"w":"G2","s":2,"c":31,"v":0.447},{"w":"G2","s":2,"c":32,"v":0.78},{"w":"G2","s":2,"c":33,"v":1.2},{"w":"G2","s":2,"c":34,"v":1.55},{"w":"G2","s":2,"c":35,"v":1.82},{"w":"G2","s":2,"c":36,"v":2.04},{"w":"G2","s":2,"c":37,"v":2.24},{"w":"G2","s":2,"c":38,"v":2.45},{"w":"G2","s":2,"c":39,"v":2.63},{"w":"G2","s":2,"c":40,"v":2.82},
{"w":"G3","s":1,"c":9,"v":0.0041},{"w":"G3","s":1,"c":10,"v":0.0025},{"w":"G3","s":1,"c":11,"v":0.0017},{"w":"G3","s":1,"c":12,"v":0.0009},{"w":"G3","s":1,"c":13,"v":0.0017},{"w":"G3","s":1,"c":14,"v":0.0019},{"w":"G3","s":1,"c":15,"v":0.0016},{"w":"G3","s":1,"c":16,"v":0.0013},
{"w":"G3","s":2,"c":24,"v":0.00141},{"w":"G3","s":2,"c":25,"v":0.0021},{"w":"G3","s":2,"c":26,"v":0.0141},{"w":"G3","s":2,"c":27,"v":0.0282},{"w":"G3","s":2,"c":28,"v":0.0631},{"w":"G3","s":2,"c":29,"v":0.126},{"w":"G3","s":2,"c":30,"v":0.251},{"w":"G3","s":2,"c":31,"v":0.437},{"w":"G3","s":2,"c":32,"v":0.724},{"w":"G3","s":2,"c":33,"v":1.1},{"w":"G3","s":2,"c":34,"v":1.45},{"w":"G3","s":2,"c":35,"v":1.78},{"w":"G3","s":2,"c":36,"v":2.09},{"w":"G3","s":2,"c":37,"v":2.34},{"w":"G3","s":2,"c":38,"v":2.57},{"w":"G3","s":2,"c":39,"v":2.82},{"w":"G3","s":2,"c":40,"v":3.09}
]},
"layer": [
{
  "mark": {"type": "line", "strokeWidth": 1.7, "clip": true},
  "encoding": {
    "x": {"field": "c", "type": "quantitative", "scale": {"domain": [1, 40], "nice": false, "zero": false},
      "axis": {"title": "Cycle", "values": [2,4,6,8,10,12,14,16,18,20,22,24,26,28,30,32,34,36,38,40], "labelFontSize": 12, "labelFlush": false, "tickSize": 5, "labelPadding": 6, "gridColor": "#dcdcdc", "titleFontSize": 20, "titleY": 58, "titleBaseline": "alphabetic"}},
    "y": {"field": "v", "type": "quantitative", "scale": {"type": "log", "domain": [0.000001, 10], "nice": false},
      "axis": {"title": "ΔRn",
        "values": [0.000001,0.000002,0.000003,0.000004,0.000005,0.000006,0.000007,0.000008,0.000009,0.00001,0.00002,0.00003,0.00004,0.00005,0.00006,0.00007,0.00008,0.00009,0.0001,0.0002,0.0003,0.0004,0.0005,0.0006,0.0007,0.0008,0.0009,0.001,0.002,0.003,0.004,0.005,0.006,0.007,0.008,0.009,0.01,0.02,0.03,0.04,0.05,0.06,0.07,0.08,0.09,0.1,0.2,0.3,0.4,0.5,0.6,0.7,0.8,0.9,1,2,3,4,5,6,7,8,9,10],
        "labelExpr": "indexof(['10','1','0.1','0.01','0.001','0.0001','0.00001','0.000001'], format(datum.value, '.6~f')) >= 0 ? format(datum.value, '.6~f') : ''",
        "labelOverlap": false, "labelFontSize": 18, "labelPadding": 8, "tickSize": 5,
        "tickOpacity": {"condition": {"test": "indexof(['10','1','0.1','0.01','0.001','0.0001','0.00001','0.000001'], format(datum.value, '.6~f')) >= 0", "value": 1}, "value": 0},
        "gridColor": {"condition": {"test": "indexof(['10','1','0.1','0.01','0.001','0.0001','0.00001','0.000001'], format(datum.value, '.6~f')) >= 0", "value": "#c6c6c6"}, "value": "#e0e0e0"},
        "titleFontSize": 20, "titleAngle": -90, "titleX": -116, "titleY": 320, "titleBaseline": "bottom", "titleAlign": "center"}},
    "color": {"field": "w", "type": "nominal", "legend": null,
      "scale": {"domain": ["E1","E2","E3","E4","E5","E6","E7","E8","M1","M2","M3","M4","M5","M6","M7","M8","M9","M10","M11","M12","M13","M14","M15","L1","L2","L3","G1","G2","G3"],
        "range": ["#d4c060","#3d8fd6","#45b5e5","#3cc6e2","#52cf5a","#e4b448","#6ccf45","#7ed04a","#b8dc3a","#cdd035","#4fd04c","#2fcfae","#4a55c8","#3fcb68","#dcca4c","#2fc896","#5566c4","#78d040","#b0a070","#30c0a8","#e3b040","#a4cf48","#34c4c0","#4abde2","#55c8ec","#3cc8a0","#52d052","#4acb5c","#64d24a"]}},
    "detail": [{"field": "w", "type": "nominal"}, {"field": "s", "type": "nominal"}],
    "order": {"field": "c", "type": "quantitative"}
  }
},
{
  "data": {"values": [{"thr": 0.481935, "c0": 1, "lab": "0.481935"}]},
  "mark": {"type": "rule", "color": "#83b5ec", "strokeWidth": 5},
  "encoding": {"y": {"field": "thr", "type": "quantitative"}}
},
{
  "data": {"values": [{"thr": 0.481935, "c0": 1, "lab": "0.481935"}]},
  "mark": {"type": "text", "font": "Liberation Serif", "fontWeight": "bold", "fontSize": 28, "color": "#dd0a0a", "align": "left", "baseline": "alphabetic", "dx": 1, "dy": -1},
  "encoding": {"x": {"field": "c0", "type": "quantitative"}, "y": {"field": "thr", "type": "quantitative"}, "text": {"field": "lab", "type": "nominal"}}
}
]
}
